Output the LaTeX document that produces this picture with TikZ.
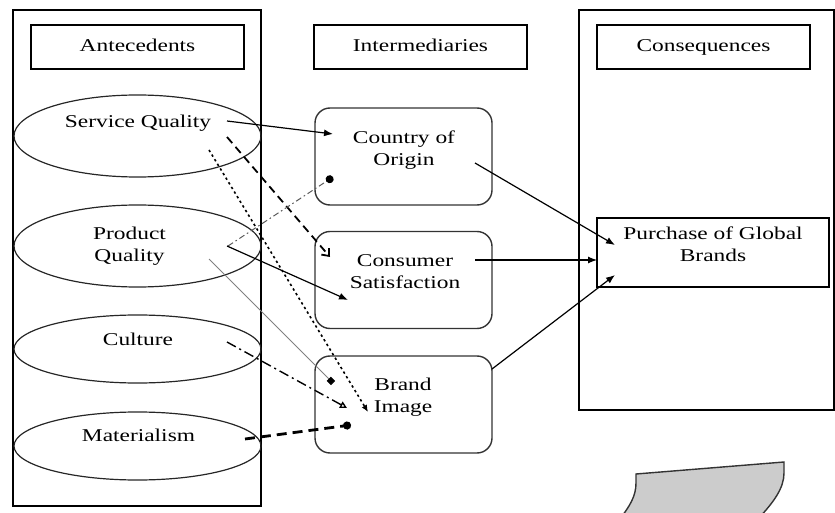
\documentclass[tikz,border=0pt]{standalone}
\usepackage{fontspec}
\setmainfont{Liberation Serif}
\usepackage{graphicx}
\usetikzlibrary{calc,positioning,arrows.meta,shapes.geometric}
% the printed text is wider than it is high
\newcommand{\wide}[1]{\scalebox{1.3}[1]{\begin{tabular}{@{}c@{}}#1\end{tabular}}}
\tikzset{
>=Latex,
  headbox/.style={
    rectangle,
    draw=black, line width=0.75pt,
    minimum width=106.5pt,
    minimum height=22pt,
    inner sep=0pt,
    font=\fontsize{9}{11}\selectfont},
  oval/.style={
    ellipse,
    draw=black!85, line width=0.6pt,
    minimum width=123.5pt,
    inner sep=0pt},
  roundbox/.style={
    rectangle,
    rounded corners=7.5pt,
    draw=black!80, line width=0.7pt,
    minimum width=88.5pt,
    minimum height=48.5pt},
  goalbox/.style={
    rectangle,
    draw=black, line width=0.9pt,
    minimum width=116pt,
    minimum height=34.5pt},
  txt/.style={font=\fontsize{9}{11}\selectfont, inner sep=0pt},
  frame/.style={draw=black, line width=0.7pt},
  solidline/.style={line width=0.6pt, -{Latex[length=4.5pt,width=3.5pt]}},
  dashline/.style={line width=0.9pt, dash pattern=on 4pt off 2.5pt,
    -{Straight Barb[length=3pt,width=5pt]}},
  dotline/.style={line width=0.8pt, dash pattern=on 1.2pt off 1.5pt,
    -{Latex[length=3.5pt,width=3pt]}},
  greydashdot/.style={line width=0.5pt, draw=black!65,
    dash pattern=on 3pt off 1.5pt on 0.8pt off 1.5pt,
    -{Circle[length=4pt,color=black]}},
  thinline/.style={line width=0.4pt, draw=black!50,
    -{Square[length=3pt,color=black]}},
  dashdotline/.style={line width=0.7pt,
    dash pattern=on 5pt off 2pt on 1pt off 2pt,
    -{Triangle[open,length=3.5pt,width=3.5pt]}},
  bolddash/.style={line width=1.4pt, dash pattern=on 5pt off 3pt,
    -{Circle[length=4pt]}},
}

\begin{document}
\begin{tikzpicture}
  [x=0.5pt, y=-0.5pt]
  \useasboundingbox (0,0) rectangle (835,513);
  % the two big frames
  \draw[frame] (13,10) rectangle (261,506);
  \draw[frame] (579,10) rectangle (834,410);
  % headers
  \node[headbox] (antehead) at (137.5,47) {\wide{Antecedents}};
  \node[headbox] (interhead) at (420.5,47) {\wide{Intermediaries}};
  \node[headbox] (conshead) at (703.5,47) {\wide{Consequences}};
  % antecedents
  \node[oval, minimum height=41pt] (service) at (137.5,136) {};
  \node[oval, minimum height=41pt] (product) at (137.5,246) {};
  \node[oval, minimum height=34pt] (culture) at (137.5,349) {};
  \node[oval, minimum height=34pt] (material) at (137.5,446) {};
  \node[txt] (servicetxt) at (138,123) {\wide{Service Quality}};
  \node[txt] (producttxt) at (129.5,246) {\wide{Product\\Quality}};
  \node[txt] (culturetxt) at (138,341) {\wide{Culture}};
  \node[txt] (materialtxt) at (138.5,437) {\wide{Materialism}};
  % intermediaries
  \node[roundbox] (origin) at (403.5,156.5) {};
  \node[roundbox] (satis) at (403.5,280) {};
  \node[roundbox] (brand) at (403.5,404.5) {};
  \node[txt] (origintxt) at (404,150) {\wide{Country of\\Origin}};
  \node[txt] (satistxt) at (405,273) {\wide{Consumer\\Satisfaction}};
  \node[txt] (brandtxt) at (403,397) {\wide{Brand\\Image}};
  % consequence
  \node[goalbox] (purchase) at (713,252.5) {};
  \node[txt] (purchasetxt) at (713,246.5) {\wide{Purchase of Global\\Brands}};
  % Now the links from the antecedents
  \draw[solidline] ($(service)+(89.5,-15)$) -- ($(origin)+(-70.5,-22.5)$);
  \draw[dashline] ($(service)+(89.5,1)$) -- ($(satis)+(-73.5,-23)$);
  \draw[dotline] ($(service)+(71.5,14)$) -- ($(brand)+(-35.5,7.5)$);
  \draw[greydashdot] ($(product)+(90.5,0)$) -- ($(origin)+(-70.5,20.5)$);
  \draw[solidline] ($(product)+(89.5,0)$) -- ($(satis)+(-55.5,20)$);
  \draw[thinline] ($(product)+(71.5,13)$) -- ($(brand)+(-70.5,-21.5)$);
  \draw[dashdotline] ($(culture)+(89.5,-7)$) -- ($(brand)+(-56.5,3.5)$);
  \draw[bolddash] ($(material)+(107.5,-7)$) -- ($(brand)+(-52.5,20.5)$);
  % and the links to the purchase
  \draw[solidline] ($(origin)+(71.5,6.5)$) -- ($(purchase)+(-98,-7.5)$);
  \draw[solidline] ($(satis)+(71.5,-20)$) -- ($(purchase)+(-116,7.5)$);
  \draw[solidline] ($(brand)+(88.5,-35.5)$) -- ($(purchase)+(-98,22.5)$);
  % grey sheet at the bottom
  \draw[line width=0.7pt, draw=black!80, fill=black!20]
    (636,474) -- (784,462) -- (784,473) .. controls (784,488) and (774,502) .. (757,520)
    -- (619,520) .. controls (630,506) and (636,496) .. (636,483) -- cycle;
\end{tikzpicture}
\end{document}
